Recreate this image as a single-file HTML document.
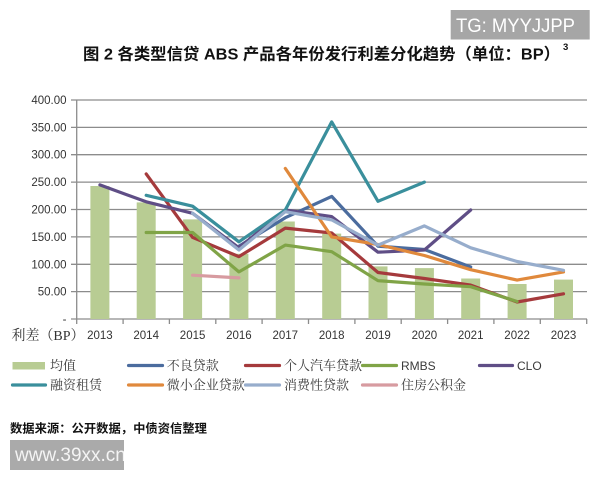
<!DOCTYPE html>
<html><head><meta charset="utf-8"><style>
html,body{margin:0;padding:0;background:#fff;}
svg{display:block;}
</style></head><body>
<svg width="600" height="480" viewBox="0 0 600 480" xmlns="http://www.w3.org/2000/svg">
<rect x="0" y="0" width="600" height="480" fill="#fff"/>
<defs><clipPath id="wm"><rect x="10" y="440" width="114" height="30"/></clipPath></defs>

<!-- TG watermark -->
<rect x="450.7" y="10" width="139" height="29.5" fill="#a6a6a6"/>
<text x="456" y="32" font-family="Liberation Sans, sans-serif" font-size="19" fill="#fff" textLength="119" lengthAdjust="spacingAndGlyphs">TG: MYYJJPP</text>

<!-- Title -->
<text x="83" y="59.5" font-family="Liberation Sans, 'Noto Sans CJK SC', sans-serif" font-size="16" font-weight="bold" fill="#111" textLength="477" lengthAdjust="spacingAndGlyphs">图 2 各类型信贷 ABS 产品各年份发行利差分化趋势（单位：BP）</text>
<text x="563" y="50" font-family="Liberation Sans, sans-serif" font-size="9.5" font-weight="bold" fill="#111">3</text>

<!-- gridlines -->
<g stroke="#8c8c8c" stroke-width="1.3">
<line x1="71" y1="100" x2="587" y2="100"/>
<line x1="71" y1="127.4" x2="587" y2="127.4"/>
<line x1="71" y1="154.7" x2="587" y2="154.7"/>
<line x1="71" y1="182.1" x2="587" y2="182.1"/>
<line x1="71" y1="209.5" x2="587" y2="209.5"/>
<line x1="71" y1="236.9" x2="587" y2="236.9"/>
<line x1="71" y1="264.3" x2="587" y2="264.3"/>
<line x1="71" y1="291.6" x2="587" y2="291.6"/>
<line x1="71" y1="319" x2="587" y2="319"/>
<line x1="76.7" y1="100" x2="76.7" y2="324"/>
<line x1="123.1" y1="319" x2="123.1" y2="324"/>
<line x1="169.4" y1="319" x2="169.4" y2="324"/>
<line x1="215.8" y1="319" x2="215.8" y2="324"/>
<line x1="262.1" y1="319" x2="262.1" y2="324"/>
<line x1="308.5" y1="319" x2="308.5" y2="324"/>
<line x1="354.9" y1="319" x2="354.9" y2="324"/>
<line x1="401.2" y1="319" x2="401.2" y2="324"/>
<line x1="447.6" y1="319" x2="447.6" y2="324"/>
<line x1="493.9" y1="319" x2="493.9" y2="324"/>
<line x1="540.3" y1="319" x2="540.3" y2="324"/>
<line x1="586.7" y1="319" x2="586.7" y2="324"/>
</g>

<!-- bars -->
<g fill="#b8cc93">
<rect x="90.4" y="186.0" width="19" height="133.0"/>
<rect x="136.7" y="202.4" width="19" height="116.6"/>
<rect x="183.1" y="219.4" width="19" height="99.6"/>
<rect x="229.4" y="253.8" width="19" height="65.2"/>
<rect x="275.8" y="221.5" width="19" height="97.5"/>
<rect x="322.2" y="233.6" width="19" height="85.4"/>
<rect x="368.5" y="266.4" width="19" height="52.6"/>
<rect x="414.9" y="268.1" width="19" height="50.9"/>
<rect x="461.2" y="278.5" width="19" height="40.5"/>
<rect x="507.6" y="284.0" width="19" height="35.0"/>
<rect x="554.0" y="279.6" width="19" height="39.4"/>
</g>

<!-- lines -->
<g fill="none" stroke-width="3.2" stroke-linejoin="round" stroke-linecap="round">
<!-- 不良贷款 -->
<polyline stroke="#4b6c9e" points="238.9,246.2 285.3,217.7 331.7,196.4 378.0,246.2 424.4,249.5 470.7,267.0"/>
<!-- 个人汽车贷款 -->
<polyline stroke="#a53a3c" points="146.2,173.9 192.6,237.4 238.9,256.6 285.3,228.1 331.7,233.0 378.0,272.5 424.4,278.5 470.7,285.1 517.1,302.0 563.5,293.8"/>
<!-- RMBS -->
<polyline stroke="#80a447" points="146.2,232.5 192.6,232.5 238.9,271.9 285.3,245.1 331.7,251.7 378.0,280.7 424.4,284.0 470.7,286.7 517.1,301.5"/>
<!-- CLO -->
<polyline stroke="#5f4e86" points="99.9,184.9 146.2,201.8 192.6,213.3 238.9,247.8 285.3,210.0 331.7,216.6 378.0,252.2 424.4,250.0 470.7,210.0"/>
<!-- 融资租赁 -->
<polyline stroke="#3a8f9c" points="146.2,195.3 192.6,206.2 238.9,241.8 285.3,210.0 331.7,121.9 378.0,201.3 424.4,182.1"/>
<!-- 微小企业贷款 -->
<polyline stroke="#e0893c" points="285.3,168.4 331.7,236.9 378.0,244.5 424.4,255.5 470.7,269.7 517.1,280.1 563.5,271.9"/>
<!-- 消费性贷款 -->
<polyline stroke="#97adcc" points="192.6,213.3 238.9,250.0 285.3,211.7 331.7,219.9 378.0,245.1 424.4,225.9 470.7,247.8 517.1,261.5 563.5,270.3"/>
<!-- 住房公积金 -->
<polyline stroke="#d79ba0" points="192.6,275.2 238.9,277.9"/>
</g>

<!-- y labels -->
<g font-family="Liberation Sans, sans-serif" font-size="11.5" fill="#333" text-anchor="end">
<text x="66.5" y="104">400.00</text>
<text x="66.5" y="131.4">350.00</text>
<text x="66.5" y="158.7">300.00</text>
<text x="66.5" y="186.1">250.00</text>
<text x="66.5" y="213.5">200.00</text>
<text x="66.5" y="240.9">150.00</text>
<text x="66.5" y="268.3">100.00</text>
<text x="66.5" y="295.6">50.00</text>
<text x="66.5" y="323">-</text>
</g>

<!-- x labels -->
<g font-family="Liberation Sans, sans-serif" font-size="11.5" fill="#333" text-anchor="middle">
<text x="99.9" y="339">2013</text>
<text x="146.2" y="339">2014</text>
<text x="192.6" y="339">2015</text>
<text x="238.9" y="339">2016</text>
<text x="285.3" y="339">2017</text>
<text x="331.7" y="339">2018</text>
<text x="378.0" y="339">2019</text>
<text x="424.4" y="339">2020</text>
<text x="470.7" y="339">2021</text>
<text x="517.1" y="339">2022</text>
<text x="563.5" y="339">2023</text>
</g>
<text x="11.5" y="340" font-family="Liberation Serif, 'Noto Serif CJK SC', serif" font-size="14" fill="#333" textLength="73" lengthAdjust="spacingAndGlyphs">利差（BP）</text>

<!-- legend -->
<g stroke-width="3.2" stroke-linecap="round">
<line x1="128.5" y1="365.5" x2="162.5" y2="365.5" stroke="#4b6c9e"/>
<line x1="245.5" y1="365.5" x2="279.5" y2="365.5" stroke="#a53a3c"/>
<line x1="362.5" y1="365.5" x2="396.5" y2="365.5" stroke="#80a447"/>
<line x1="479.5" y1="365.5" x2="512.5" y2="365.5" stroke="#5f4e86"/>
<line x1="12.5" y1="385" x2="45.5" y2="385" stroke="#3a8f9c"/>
<line x1="128.5" y1="385" x2="162.5" y2="385" stroke="#e0893c"/>
<line x1="245.5" y1="385" x2="279.5" y2="385" stroke="#97adcc"/>
<line x1="362.5" y1="385" x2="396.5" y2="385" stroke="#d79ba0"/>
</g>
<rect x="12.5" y="362" width="32.5" height="7.5" fill="#b8cc93"/>
<g font-family="Liberation Serif, 'Noto Serif CJK SC', serif" font-size="13" fill="#3a3a3a">
<text x="50" y="370">均值</text>
<text x="166.7" y="370">不良贷款</text>
<text x="284" y="370">个人汽车贷款</text>
<text x="50" y="389.5">融资租赁</text>
<text x="166.7" y="389.5">微小企业贷款</text>
<text x="284" y="389.5">消费性贷款</text>
<text x="401" y="389.5">住房公积金</text>
</g>
<g font-family="Liberation Sans, sans-serif" font-size="12" fill="#3a3a3a">
<text x="401" y="370">RMBS</text>
<text x="517" y="370">CLO</text>
</g>

<!-- source -->
<text x="10" y="432.5" font-family="Liberation Sans, 'Noto Sans CJK SC', sans-serif" font-size="12" font-weight="bold" fill="#111" textLength="197" lengthAdjust="spacingAndGlyphs">数据来源：公开数据，中债资信整理</text>

<!-- bottom watermark -->
<rect x="10" y="440" width="114" height="30" fill="#aaaaaa"/>
<g clip-path="url(#wm)">
<text x="15" y="461" font-family="Liberation Sans, sans-serif" font-size="19" fill="#f4f4f4">www.39xx.cn</text>
</g>
</svg>
</body></html>
